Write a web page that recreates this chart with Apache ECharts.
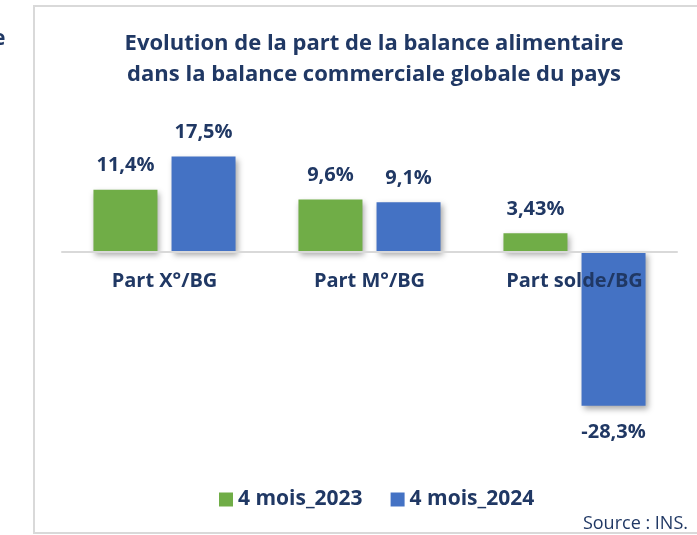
<!DOCTYPE html>
<html>
<head>
<meta charset="utf-8">
<script src="https://cdn.jsdelivr.net/npm/echarts@6/dist/echarts.min.js"></script>
<style>
  html, body { margin: 0; padding: 0; background: #fff; }
  #main { width: 697px; height: 535px; }
</style>
</head>
<body>
<div id="main"></div>
<script>
var categories = ['Part X°/BG', 'Part M°/BG', 'Part solde/BG'];
var values2023 = [11.4, 9.6, 3.43];
var values2024 = [17.5, 9.1, -28.3];
var seriesNames = ['4 mois_2023', '4 mois_2024'];

var navy = '#203864';
var font = 'Open Sans';

function fmt(v) {
    return String(v).replace('.', ',') + '%';
}

function withLabels(arr) {
    return arr.map(function (v) {
        return { value: v, label: v < 0 ? { position: 'bottom', distance: 17 } : { position: 'top' } };
    });
}

var barShadow = {
    shadowBlur: 6,
    shadowColor: 'rgba(0,0,0,0.35)',
    shadowOffsetX: 2,
    shadowOffsetY: 3
};

// grid: top 143, height 272, y from -30 to 20 -> zero line at 251.8
var myChart = echarts.init(document.getElementById('main'));
var option = {
    backgroundColor: '#fff',
    textStyle: { fontFamily: font },
    title: {
        text: 'Evolution de la part de la balance alimentaire\ndans la balance commerciale globale du pays',
        left: 369,
        textAlign: 'center',
        top: 23,
        textStyle: {
            color: navy,
            fontSize: 22,
            fontWeight: 'bold',
            lineHeight: 31,
            fontFamily: font
        }
    },
    legend: {
        data: seriesNames,
        top: 484,
        left: 214,
        itemWidth: 14,
        itemHeight: 14,
        itemGap: 28,
        icon: 'rect',
        textStyle: { color: navy, fontSize: 21, fontWeight: 'bold', fontFamily: font }
    },
    grid: {
        left: 62,
        right: 20,
        top: 143,
        height: 272
    },
    xAxis: {
        type: 'category',
        data: categories,
        z: 10,
        offset: -163.2,
        axisLine: { onZero: false, lineStyle: { color: '#d9d9d9', width: 2 } },
        axisTick: { show: false },
        axisLabel: {
            margin: 19,
            color: navy,
            fontSize: 20,
            fontWeight: 'bold',
            fontFamily: font
        }
    },
    yAxis: {
        type: 'value',
        min: -30,
        max: 20,
        show: false,
        splitLine: { show: false }
    },
    series: [
        {
            name: seriesNames[0],
            type: 'bar',
            data: withLabels(values2023),
            barWidth: 64,
            barGap: '22%',
            itemStyle: Object.assign({ color: '#70ad47' }, barShadow),
            label: {
                show: true,
                distance: 14,
                color: navy,
                fontSize: 20,
                fontWeight: 'bold',
                fontFamily: font,
                formatter: function (p) { return fmt(p.value); }
            }
        },
        {
            name: seriesNames[1],
            type: 'bar',
            data: withLabels(values2024),
            barWidth: 64,
            itemStyle: Object.assign({ color: '#4472c4' }, barShadow),
            label: {
                show: true,
                distance: 14,
                color: navy,
                fontSize: 20,
                fontWeight: 'bold',
                fontFamily: font,
                formatter: function (p) { return fmt(p.value); }
            }
        }
    ],
    graphic: [
        {
            type: 'rect',
            z: -10,
            shape: { x: 34, y: 6, width: 700, height: 527 },
            style: { fill: 'none', stroke: '#d9d9d9', lineWidth: 2 }
        },
        {
            type: 'text',
            left: -7,
            top: 29,
            style: { text: 'e', fill: navy, font: 'bold 21px ' + font }
        },
        {
            type: 'text',
            right: 9,
            top: 515,
            style: { text: 'Source : INS.', fill: navy, font: '18px ' + font }
        }
    ]
};

myChart.setOption(option);
</script>
</body>
</html>
